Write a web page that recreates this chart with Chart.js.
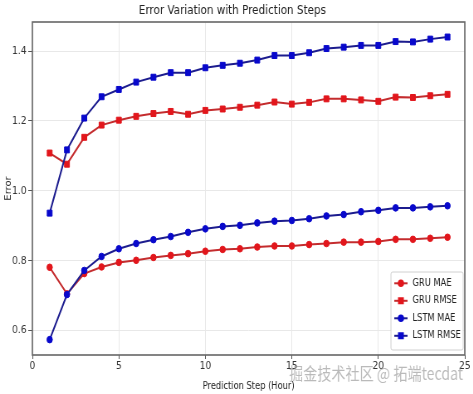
<!DOCTYPE html>
<html>
<head>
<meta charset="utf-8">
<script src="https://cdn.jsdelivr.net/npm/chart.js@4"></script>
<style>
  html, body { margin: 0; padding: 0; background: #fff; overflow: hidden; }
  /* исходная картинка сжата по горизонтали, поэтому рисуем шире и сжимаем */
  #wrap { width: 570px; height: 394px; transform: scaleX(0.83); transform-origin: 0 0; }
</style>
</head>
<body>
<div id="wrap"><canvas id="errChart" width="570" height="394"></canvas></div>
<script>
// данные с картинки
const steps = [1, 2, 3, 4, 5, 6, 7, 8, 9, 10, 11, 12, 13, 14, 15, 16, 17, 18, 19, 20, 21, 22, 23, 24];
const gruMae = [0.781, 0.705, 0.763, 0.782, 0.795, 0.801, 0.809, 0.815, 0.820, 0.827, 0.832, 0.834,
                0.839, 0.842, 0.842, 0.846, 0.849, 0.853, 0.853, 0.855, 0.861, 0.861, 0.864, 0.867];
const gruRmse = [1.108, 1.076, 1.153, 1.188, 1.202, 1.213, 1.221, 1.227, 1.219, 1.230, 1.234, 1.239,
                 1.245, 1.254, 1.248, 1.253, 1.263, 1.263, 1.260, 1.256, 1.268, 1.267, 1.272, 1.276];
const lstmMae = [0.574, 0.703, 0.772, 0.812, 0.834, 0.849, 0.860, 0.869, 0.881, 0.891, 0.898, 0.901,
                 0.908, 0.913, 0.915, 0.920, 0.928, 0.932, 0.940, 0.944, 0.951, 0.951, 0.954, 0.957];
const lstmRmse = [0.936, 1.117, 1.208, 1.269, 1.290, 1.311, 1.325, 1.338, 1.338, 1.352, 1.359, 1.365,
                  1.374, 1.387, 1.387, 1.395, 1.407, 1.411, 1.416, 1.416, 1.427, 1.426, 1.434, 1.440];
const xTicks = [0, 5, 10, 15, 20, 25];
const yTicks = [0.6, 0.8, 1.0, 1.2, 1.4];

const FONT = "'DejaVu Sans', sans-serif";
const RED = '#e2161c', RED_LINE = '#c42c2e';
const BLUE = '#0808cc', BLUE_LINE = '#1c1c8e';

function series(label, values, lineColor, markColor, style, order) {
    return {
        label: label,
        data: steps.map((s, i) => ({ x: s, y: values[i] })),
        borderColor: lineColor,
        backgroundColor: markColor,
        pointBackgroundColor: markColor,
        pointBorderColor: markColor,
        pointBorderWidth: 1,
        pointStyle: style,
        pointRadius: style === 'rect' ? 4.2 : 3.3,
        borderWidth: 2,
        tension: 0,
        order: order
    };
}

// рамка вокруг области графика
const framePlugin = {
    id: 'frame',
    afterDatasetsDraw(chart) {
        const a = chart.chartArea, ctx = chart.ctx;
        ctx.save();
        ctx.strokeStyle = '#666';
        ctx.lineWidth = 1.6;
        ctx.strokeRect(a.left, a.top, a.right - a.left, a.bottom - a.top);
        ctx.restore();
    }
};

// легенда в правом нижнем углу
const legendPlugin = {
    id: 'boxLegend',
    afterDraw(chart) {
        const a = chart.chartArea, ctx = chart.ctx;
        const w = 87, h = 78;
        const x0 = a.right - w - 2, y0 = a.bottom - h - 5;
        ctx.save();
        ctx.fillStyle = 'rgba(255,255,255,0.9)';
        ctx.strokeStyle = '#d0d0d0';
        ctx.lineWidth = 1;
        ctx.beginPath();
        ctx.roundRect(x0, y0, w, h, 2);
        ctx.fill();
        ctx.stroke();
        chart.data.datasets.forEach((ds, i) => {
            const cy = y0 + 11.3 + i * 17.5;
            ctx.strokeStyle = ds.borderColor;
            ctx.lineWidth = 2;
            ctx.beginPath();
            ctx.moveTo(x0 + 4, cy);
            ctx.lineTo(x0 + 20, cy);
            ctx.stroke();
            ctx.fillStyle = ds.pointBackgroundColor;
            ctx.strokeStyle = ds.pointBorderColor;
            Chart.helpers.drawPoint(ctx, { pointStyle: ds.pointStyle, radius: ds.pointRadius * 0.85, borderWidth: 1, rotation: 0 }, x0 + 12, cy);
            ctx.fillStyle = '#222';
            ctx.font = '10px ' + FONT;
            ctx.textBaseline = 'middle';
            ctx.textAlign = 'left';
            ctx.fillText(ds.label, x0 + 26, cy);
        });
        ctx.restore();
    }
};

// водяной знак
const markPlugin = {
    id: 'watermark',
    afterDraw(chart) {
        const ctx = chart.ctx;
        ctx.save();
        ctx.fillStyle = 'rgba(140,140,140,0.6)';
        ctx.font = "17px 'Noto Sans CJK SC', sans-serif";
        ctx.textAlign = 'right';
        ctx.textBaseline = 'middle';
        ctx.fillText('掘金技术社区 @ 拓端tecdat', 558, 374);
        ctx.restore();
    }
};

const ctx = document.getElementById('errChart').getContext('2d');
new Chart(ctx, {
    type: 'line',
    data: {
        datasets: [
            series('GRU MAE', gruMae, RED_LINE, RED, 'circle', 4),
            series('GRU RMSE', gruRmse, RED_LINE, RED, 'rect', 3),
            series('LSTM MAE', lstmMae, BLUE_LINE, BLUE, 'circle', 2),
            series('LSTM RMSE', lstmRmse, BLUE_LINE, BLUE, 'rect', 1)
        ]
    },
    options: {
        responsive: false,
        animation: false,
        layout: { padding: { left: 0, right: 10, top: 0, bottom: 0 } },
        plugins: {
            legend: { display: false },
            tooltip: { enabled: false },
            title: {
                display: true,
                text: 'Error Variation with Prediction Steps',
                color: '#222',
                font: { family: FONT, size: 12.5, weight: 'normal' },
                padding: { top: 3, bottom: 4 }
            }
        },
        scales: {
            x: {
                type: 'linear',
                min: 0,
                max: 25,
                afterBuildTicks: s => { s.ticks = xTicks.map(v => ({ value: v })); },
                afterFit: s => { s.height = 39; },
                grid: { color: '#e8e8e8', tickColor: '#555', tickLength: 4, drawTicks: true },
                border: { display: false },
                ticks: { color: '#333', padding: 1, maxRotation: 0, font: { family: FONT, size: 11 } },
                title: {
                    display: true,
                    text: 'Prediction Step (Hour)',
                    color: '#222',
                    font: { family: FONT, size: 10 },
                    padding: { top: 0, bottom: 2 }
                }
            },
            y: {
                min: 0.53,
                max: 1.483,
                afterBuildTicks: s => { s.ticks = yTicks.map(v => ({ value: v })); },
                afterFit: s => { s.width = 39; },
                grid: { color: '#e8e8e8', tickColor: '#555', tickLength: 5, drawTicks: true },
                border: { display: false },
                ticks: {
                    color: '#333',
                    padding: 2,
                    font: { family: FONT, size: 11 },
                    callback: v => v.toFixed(1)
                },
                title: {
                    display: true,
                    text: 'Error',
                    color: '#222',
                    font: { family: FONT, size: 10 },
                    padding: { top: 4, bottom: 0 }
                }
            }
        }
    },
    plugins: [framePlugin, legendPlugin, markPlugin]
});
</script>
</body>
</html>
